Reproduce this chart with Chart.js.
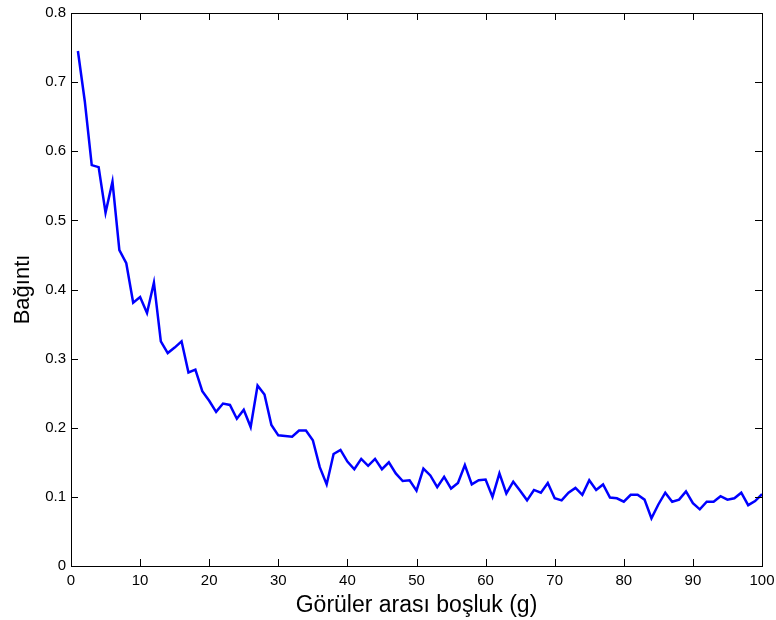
<!DOCTYPE html>
<html>
<head>
<meta charset="utf-8">
<title>Bağıntı</title>
<script src="https://cdn.jsdelivr.net/npm/chart.js@4/dist/chart.umd.min.js"></script>
<style>
  html, body { margin: 0; padding: 0; background: #fff; }
  canvas { display: block; }
</style>
</head>
<body>
<canvas id="chart" width="776" height="620"></canvas>
<script>
var gaps = [
  1, 2, 3, 4, 5, 6, 7, 8, 9, 10, 11, 12, 13, 14, 15, 16, 17, 18, 19, 20,
  21, 22, 23, 24, 25, 26, 27, 28, 29, 30, 31, 32, 33, 34, 35, 36, 37, 38, 39, 40,
  41, 42, 43, 44, 45, 46, 47, 48, 49, 50, 51, 52, 53, 54, 55, 56, 57, 58, 59, 60,
  61, 62, 63, 64, 65, 66, 67, 68, 69, 70, 71, 72, 73, 74, 75, 76, 77, 78, 79, 80,
  81, 82, 83, 84, 85, 86, 87, 88, 89, 90, 91, 92, 93, 94, 95, 96, 97, 98, 99, 100
];
var correlation = [
  0.745, 0.672, 0.580, 0.577, 0.511, 0.556, 0.457, 0.438, 0.381, 0.389,
  0.366, 0.410, 0.325, 0.308, 0.316, 0.325, 0.280, 0.284, 0.253, 0.239,
  0.223, 0.235, 0.233, 0.213, 0.226, 0.201, 0.261, 0.248, 0.204, 0.189,
  0.188, 0.187, 0.196, 0.196, 0.182, 0.143, 0.118, 0.162, 0.168, 0.151,
  0.140, 0.155, 0.145, 0.155, 0.140, 0.150, 0.134, 0.123, 0.124, 0.109,
  0.141, 0.131, 0.114, 0.129, 0.112, 0.120, 0.146, 0.118, 0.124, 0.125,
  0.100, 0.134, 0.105, 0.122, 0.109, 0.095, 0.110, 0.106, 0.120, 0.098,
  0.095, 0.106, 0.113, 0.103, 0.124, 0.110, 0.118, 0.099, 0.098, 0.093,
  0.103, 0.103, 0.096, 0.069, 0.089, 0.106, 0.093, 0.096, 0.108, 0.091,
  0.082, 0.093, 0.093, 0.101, 0.096, 0.098, 0.106, 0.088, 0.094, 0.104
];
var xTicks = [0, 10, 20, 30, 40, 50, 60, 70, 80, 90, 100];
var yTicks = [0, 0.1, 0.2, 0.3, 0.4, 0.5, 0.6, 0.7, 0.8];

var FONT = "'Liberation Sans', Arial, Helvetica, sans-serif";

// box round the plot with short ticks pointing inwards on all four sides
var frame = {
  id: 'frame',
  afterDraw: function(chart) {
    var ctx = chart.ctx;
    var a = chart.chartArea;
    var x = chart.scales.x;
    var y = chart.scales.y;
    var len = 7;
    ctx.save();
    ctx.strokeStyle = '#000';
    ctx.lineWidth = 1;
    ctx.strokeRect(a.left + 0.5, a.top + 0.5, a.right - a.left, a.bottom - a.top);
    ctx.beginPath();
    xTicks.forEach(function(v) {
      var px = Math.round(x.getPixelForValue(v)) + 0.5;
      ctx.moveTo(px, a.bottom);
      ctx.lineTo(px, a.bottom - len);
      ctx.moveTo(px, a.top);
      ctx.lineTo(px, a.top + len);
    });
    yTicks.forEach(function(v) {
      var py = Math.round(y.getPixelForValue(v)) + 0.5;
      ctx.moveTo(a.left, py);
      ctx.lineTo(a.left + len, py);
      ctx.moveTo(a.right, py);
      ctx.lineTo(a.right - len, py);
    });
    ctx.stroke();
    ctx.restore();
  }
};

new Chart(document.getElementById('chart'), {
  type: 'line',
  data: {
    labels: gaps,
    datasets: [{
      data: gaps.map(function(g, i) { return { x: g, y: correlation[i] }; }),
      borderColor: '#0000ff',
      borderWidth: 2.5,
      pointRadius: 0,
      tension: 0,
      fill: false
    }]
  },
  options: {
    responsive: false,
    animation: false,
    layout: { padding: { top: 13, right: 14, left: 0, bottom: 0 } },
    plugins: { legend: { display: false }, tooltip: { enabled: false } },
    scales: {
      x: {
        type: 'linear',
        min: 0,
        max: 100,
        afterBuildTicks: function(scale) {
          scale.ticks = xTicks.map(function(v) { return { value: v }; });
        },
        afterFit: function(scale) {
          scale.height = 54;
          // let the end labels hang past the plot edges
          scale.paddingLeft = 0;
          scale.paddingRight = 0;
        },
        grid: { display: false, drawTicks: false },
        border: { display: false },
        ticks: {
          color: '#000',
          padding: 6,
          maxRotation: 0,
          autoSkip: false,
          font: { family: FONT, size: 15 }
        },
        title: {
          display: true,
          text: 'Görüler arası boşluk (g)',
          color: '#000',
          padding: { top: 0, bottom: 1 },
          font: { family: FONT, size: 23 }
        }
      },
      y: {
        min: 0,
        max: 0.8,
        afterBuildTicks: function(scale) {
          scale.ticks = yTicks.map(function(v) { return { value: v }; });
        },
        afterFit: function(scale) {
          scale.width = 71;
          scale.paddingTop = 0;
          scale.paddingBottom = 0;
        },
        grid: { display: false, drawTicks: false },
        border: { display: false },
        ticks: {
          color: '#000',
          padding: 5,
          autoSkip: false,
          font: { family: FONT, size: 15 },
          callback: function(v) { return String(Math.round(v * 10) / 10); }
        },
        title: {
          display: true,
          text: 'Bağıntı',
          color: '#000',
          padding: { top: 10, bottom: 0 },
          font: { family: FONT, size: 22 }
        }
      }
    }
  },
  plugins: [frame]
});
</script>
</body>
</html>
